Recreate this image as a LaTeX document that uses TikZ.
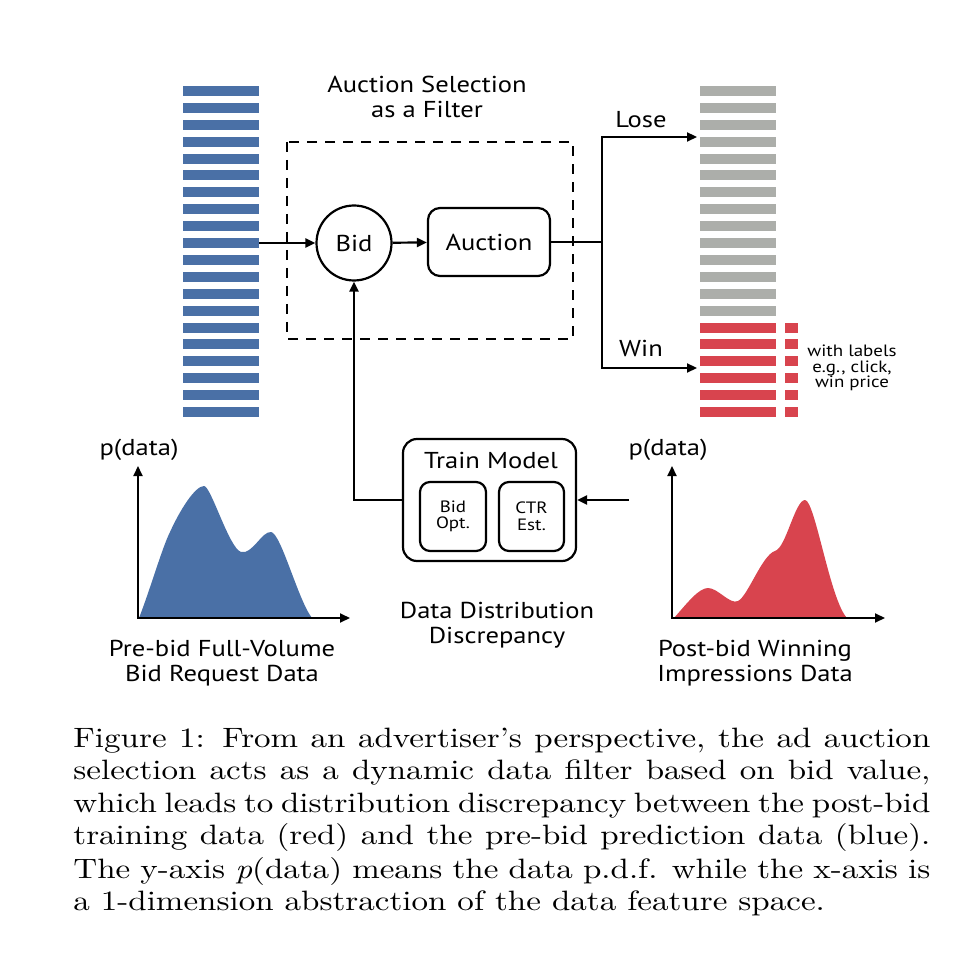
\documentclass[tikz,border=0pt]{standalone}
\usepackage{fontspec}
\newfontfamily\diagfont{PT Sans}[FakeStretch=1.155]
\newfontfamily\capfont{lmroman10-regular.otf}[FakeStretch=1.18, Ligatures=TeX, ItalicFont=lmroman10-italic.otf]
\usetikzlibrary{arrows.meta,positioning}

\definecolor{reqblue}{RGB}{74,112,166}
\definecolor{winred}{RGB}{216,68,78}
\definecolor{losegray}{RGB}{172,174,170}

\begin{document}
\begin{tikzpicture}[x=0.5pt, y=-0.5pt, >={Triangle[length=5pt,width=4.5pt]},
    flow/.style={line width=1.1pt},
    txt/.style={font=\diagfont\fontsize{11.5}{12.5}\selectfont, align=center, inner sep=0pt},
    small/.style={font=\diagfont\fontsize{8.2}{8.3}\selectfont, align=center, inner sep=0pt},
    capline/.style={anchor=base west, inner sep=0pt, font=\capfont\fontsize{14}{16.3}\selectfont}]
        \useasboundingbox (0,0) rectangle (974,962);

        % --- Barras de peticiones (izquierda) y de resultados (derecha) ---
        \foreach \i in {0,...,19}
            \fill[reqblue] (183,86+16.9*\i) rectangle ++(76,10);
        \foreach \i in {0,...,13}
            \fill[losegray] (700,86+16.9*\i) rectangle ++(76,10);
        \foreach \i in {14,...,19} {
            \fill[winred] (700,86+16.9*\i) rectangle ++(76,10);
            \fill[winred] (785,86+16.9*\i) rectangle ++(13,10);
        }

        % --- Filtro de la subasta ---
        \draw[dash pattern=on 5pt off 4pt, line width=1pt] (287,142) rectangle (573,339);
        \node[txt] (Titulo) at (427,97) {Auction Selection\\as a Filter};
        \node[draw, circle, line width=1.1pt, minimum size=37.5pt, txt] (Bid) at (354,243) {Bid};
        \node[draw, rounded corners=6pt, line width=1.1pt, minimum width=61pt, minimum height=34pt, txt] (Auction) at (489,242) {Auction};

        % --- Flechas de conexión ---
        \coordinate (ReqOut) at (259,243);
        \coordinate (Split) at (602,242);
        \coordinate (LoseIn) at (697,137);
        \coordinate (WinIn) at (697,368);
        \draw[->, flow] (ReqOut) -- (Bid);
        \draw[->, flow] (Bid) -- (Auction);
        \draw[flow] (Auction) -- (Split);
        \draw[->, flow] (Split) |- (LoseIn);
        \draw[->, flow] (Split) |- (WinIn);
        \node[txt] (Lose) at (641,120) {Lose};
        \node[txt] (Win) at (641,348) {Win};
        \node[small, font=\diagfont\fontsize{8.2}{7.7}\selectfont] (Etiquetas) at (852,368) {with labels\\e.g., click,\\win price};

        % --- Entrenamiento del modelo ---
        \node[draw, rounded corners=7pt, line width=1.1pt, minimum width=86.5pt, minimum height=61pt] (Train) at (489.5,500) {};
        \node[txt] (TrainLbl) at (491,460) {Train Model};
        \node[draw, rounded corners=5pt, line width=1.1pt, minimum width=33pt, minimum height=34.5pt, small] (BidOpt) at (453,516.5) {Bid\\Opt.};
        \node[draw, rounded corners=5pt, line width=1.1pt, minimum width=32.5pt, minimum height=34.5pt, small] (CtrEst) at (531.5,516.5) {CTR\\Est.};
        \coordinate (PostIn) at (629,500);
        \draw[->, flow] (Train.west) -| (Bid.south);
        \draw[->, flow] (PostIn) -- (Train.east);

        % --- Distribuciones ---
        \fill[reqblue] (139,618) .. controls (150,590) and (162,548) .. (170,532)
            .. controls (180,510) and (195,486) .. (204,486)
            .. controls (211,486) and (229,548) .. (241,552)
            .. controls (252,555) and (262,531) .. (271,532)
            .. controls (281,533) and (298,600) .. (312,618) -- cycle;
        \fill[winred] (674,618) .. controls (688,602) and (699,588) .. (708,588)
            .. controls (718,588) and (730,605) .. (738,601)
            .. controls (748,596) and (762,555) .. (775,551)
            .. controls (786,548) and (795,500) .. (805,500)
            .. controls (815,500) and (830,600) .. (847,618) -- cycle;
        \draw[<->, line width=1pt] (138,466) -- (138,618) -- (350,618);
        \draw[<->, line width=1pt] (672,466) -- (672,618) -- (885,618);
        \node[txt] (PreY) at (139,450) {p(data)};
        \node[txt] (PostY) at (668,450) {p(data)};
        \node[txt] (PreLbl) at (222,663) {Pre-bid Full-Volume\\Bid Request Data};
        \node[txt] (Discrep) at (497,625) {Data Distribution\\Discrepancy};
        \node[txt] (PostLbl) at (755,663) {Post-bid Winning\\Impressions Data};

        % --- Pie de figura ---
        \node[capline] (Cap1) at (73,747) {\makebox[428.5pt][s]{Figure 1: From an advertiser's perspective, the ad auction}};
        \node[capline] (Cap2) at (73,779) {\makebox[428.5pt][s]{selection acts as a dynamic data filter based on bid value,}};
        \node[capline] (Cap3) at (73,812) {\makebox[428.5pt][s]{which leads to distribution discrepancy between the post-bid}};
        \node[capline] (Cap4) at (73,844) {\makebox[428.5pt][s]{training data (red) and the pre-bid prediction data (blue).}};
        \node[capline] (Cap5) at (73,878) {\makebox[428.5pt][s]{The y-axis \textit{p}(data) means the data p.d.f. while the x-axis is}};
        \node[capline] (Cap6) at (73,910) {a 1-dimension abstraction of the data feature space.};
    \end{tikzpicture}
\end{document}
